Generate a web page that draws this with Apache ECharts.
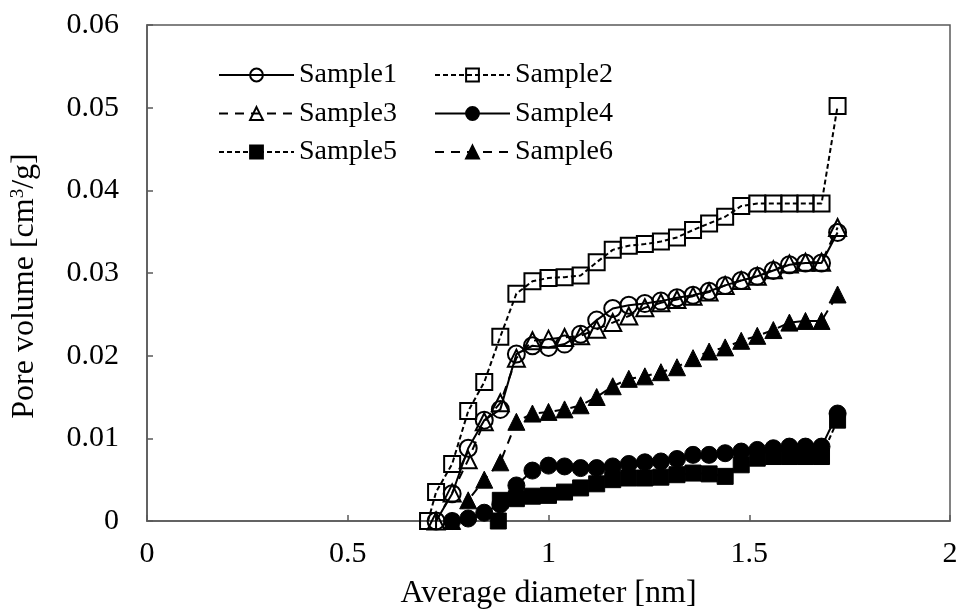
<!DOCTYPE html>
<html>
<head>
<meta charset="utf-8">
<script src="https://cdn.jsdelivr.net/npm/echarts@6/dist/echarts.min.js"></script>
<style>
  html, body { margin: 0; padding: 0; background: #ffffff; }
  #chart { width: 958px; height: 610px; }
</style>
</head>
<body>
<div id="chart"></div>
<script>
// Average pore diameter grid [nm]
const diameter = [0.70, 0.72, 0.76, 0.80, 0.84, 0.88, 0.92, 0.96, 1.00, 1.04, 1.08, 1.12, 1.16, 1.20,
  1.24, 1.28, 1.32, 1.36, 1.40, 1.44, 1.48, 1.52, 1.56, 1.60, 1.64, 1.68, 1.72];

// Pore volume [cm3/g] per sample, aligned with the diameter grid (null = no point)
const sample1 = [null, 0, 0.0033, 0.0088, 0.0122, 0.0135, 0.0202, 0.0212, 0.0210, 0.0214, 0.0226, 0.0243,
  0.0257, 0.0261, 0.0263, 0.0266, 0.0270, 0.0273, 0.0278, 0.0285, 0.0291, 0.0296, 0.0303, 0.0310, 0.0312, 0.0312, 0.0349];
const sample2 = [0, 0.0035, 0.0069, 0.0133, 0.0168, 0.0223, 0.0275, 0.0290, 0.0294, 0.0295, 0.0297, 0.0313,
  0.0328, 0.0333, 0.0335, 0.0338, 0.0343, 0.0352, 0.0360, 0.0368, 0.0381, 0.0384, 0.0384, 0.0384, 0.0384, 0.0384, 0.0502];
const sample3 = [null, 0, 0.0034, 0.0074, 0.0120, 0.0143, 0.0197, 0.0218, 0.0220, 0.0222, 0.0224, 0.0232,
  0.0240, 0.0248, 0.0258, 0.0264, 0.0268, 0.0272, 0.0277, 0.0285, 0.0291, 0.0296, 0.0304, 0.0311, 0.0313, 0.0313, 0.0355];
const sample4 = [null, null, 0, 0.0003, 0.0010, 0.0020, 0.0043, 0.0061, 0.0067, 0.0066, 0.0064, 0.0064,
  0.0066, 0.0069, 0.0071, 0.0072, 0.0075, 0.0080, 0.0080, 0.0082, 0.0084, 0.0086, 0.0088, 0.0090, 0.0090, 0.0090, 0.0130];
const sample5 = [null, null, null, null, null, 0.0025, 0.0027, 0.0030, 0.0031, 0.0035, 0.0040, 0.0045,
  0.0050, 0.0052, 0.0052, 0.0053, 0.0056, 0.0058, 0.0057, 0.0054, 0.0068, 0.0076, 0.0078, 0.0078, 0.0078, 0.0078, 0.0122];
const sample5Start = [0.875, 0];   // first Sample5 point, just below the 0.88 nm step
const sample6 = [null, null, 0, 0.0025, 0.0050, 0.0071, 0.0120, 0.0130, 0.0132, 0.0135, 0.0140, 0.0150,
  0.0163, 0.0172, 0.0175, 0.0180, 0.0186, 0.0197, 0.0205, 0.0210, 0.0218, 0.0224, 0.0231, 0.0240, 0.0242, 0.0242, 0.0274];

// Axis ticks
const xTicks = { min: 0, max: 2, interval: 0.5 };
const yTicks = { min: 0, max: 0.06, interval: 0.01 };

const FONT = 'Liberation Serif';
const INK = '#000000';
const FRAME = '#595959';

function pairs(vals) {
  const out = [];
  vals.forEach((v, i) => { if (v !== null) out.push([diameter[i], v]); });
  return out;
}

function makeSeries(name, data, symbol, filled, dash, size) {
  return {
    name: name,
    type: 'line',
    data: data,
    symbol: symbol,
    symbolSize: size,
    showSymbol: true,
    animation: false,
    lineStyle: { color: INK, width: 2, type: dash },
    itemStyle: filled
      ? { color: INK, borderColor: INK, borderWidth: 1 }
      : { color: 'rgba(255,255,255,0)', borderColor: INK, borderWidth: 2 },
    emphasis: { disabled: true }
  };
}

const s5 = [sample5Start].concat(pairs(sample5));

const series = [
  makeSeries('Sample1', pairs(sample1), 'circle', false, 'solid', 17),
  makeSeries('Sample2', pairs(sample2), 'rect', false, [5, 3], 16),
  makeSeries('Sample3', pairs(sample3), 'triangle', false, [9, 7], 17),
  makeSeries('Sample4', pairs(sample4), 'circle', true, 'solid', 17),
  makeSeries('Sample5', s5, 'rect', true, [5, 3], 16),
  makeSeries('Sample6', pairs(sample6), 'triangle', true, [9, 7], 17)
];

const legendBase = {
  orient: 'vertical',
  top: 56,
  itemWidth: 75,
  itemHeight: 16,
  itemGap: 10.5,
  textStyle: { fontFamily: FONT, fontSize: 28, lineHeight: 28, color: INK, padding: [0, 0, 0, 0] },
  selectedMode: false
};

const chart = echarts.init(document.getElementById('chart'), null, { renderer: 'canvas' });
chart.setOption({
  backgroundColor: '#ffffff',
  animation: false,
  grid: {
    left: 147, right: 8, top: 25, bottom: 89,
    containLabel: false,
    outerBoundsMode: 'none',
    show: true, borderColor: FRAME, borderWidth: 1.5, backgroundColor: 'transparent'
  },
  legend: [
    Object.assign({}, legendBase, { left: 213, data: ['Sample1', 'Sample3', 'Sample5'] }),
    Object.assign({}, legendBase, { left: 429, data: ['Sample2', 'Sample4', 'Sample6'] })
  ],
  xAxis: {
    type: 'value',
    min: xTicks.min, max: xTicks.max, interval: xTicks.interval,
    name: 'Average diameter [nm]',
    nameLocation: 'middle',
    nameGap: 57,
    nameTextStyle: { fontFamily: FONT, fontSize: 32, color: INK },
    axisLine: { show: true, lineStyle: { color: FRAME, width: 1.5 } },
    axisTick: { show: true, inside: true, length: 6, lineStyle: { color: FRAME, width: 1.5 } },
    axisLabel: { fontFamily: FONT, fontSize: 30, color: INK, margin: 18 },
    splitLine: { show: false }
  },
  yAxis: {
    type: 'value',
    min: yTicks.min, max: yTicks.max, interval: yTicks.interval,
    name: 'Pore volume [cm{sup|3}/g]',
    nameLocation: 'middle',
    nameGap: 106,
    nameTextStyle: {
      fontFamily: FONT, fontSize: 32, color: INK, padding: [0, 26, 0, 0],
      rich: { sup: { fontFamily: FONT, fontSize: 19, color: INK, verticalAlign: 'top', padding: [0, 0, 12, 0] } }
    },
    axisLine: { show: true, lineStyle: { color: FRAME, width: 1.5 } },
    axisTick: { show: true, inside: true, length: 6, lineStyle: { color: FRAME, width: 1.5 } },
    axisLabel: { fontFamily: FONT, fontSize: 30, color: INK, margin: 28 },
    splitLine: { show: false }
  },
  series: series
});
</script>
</body>
</html>
